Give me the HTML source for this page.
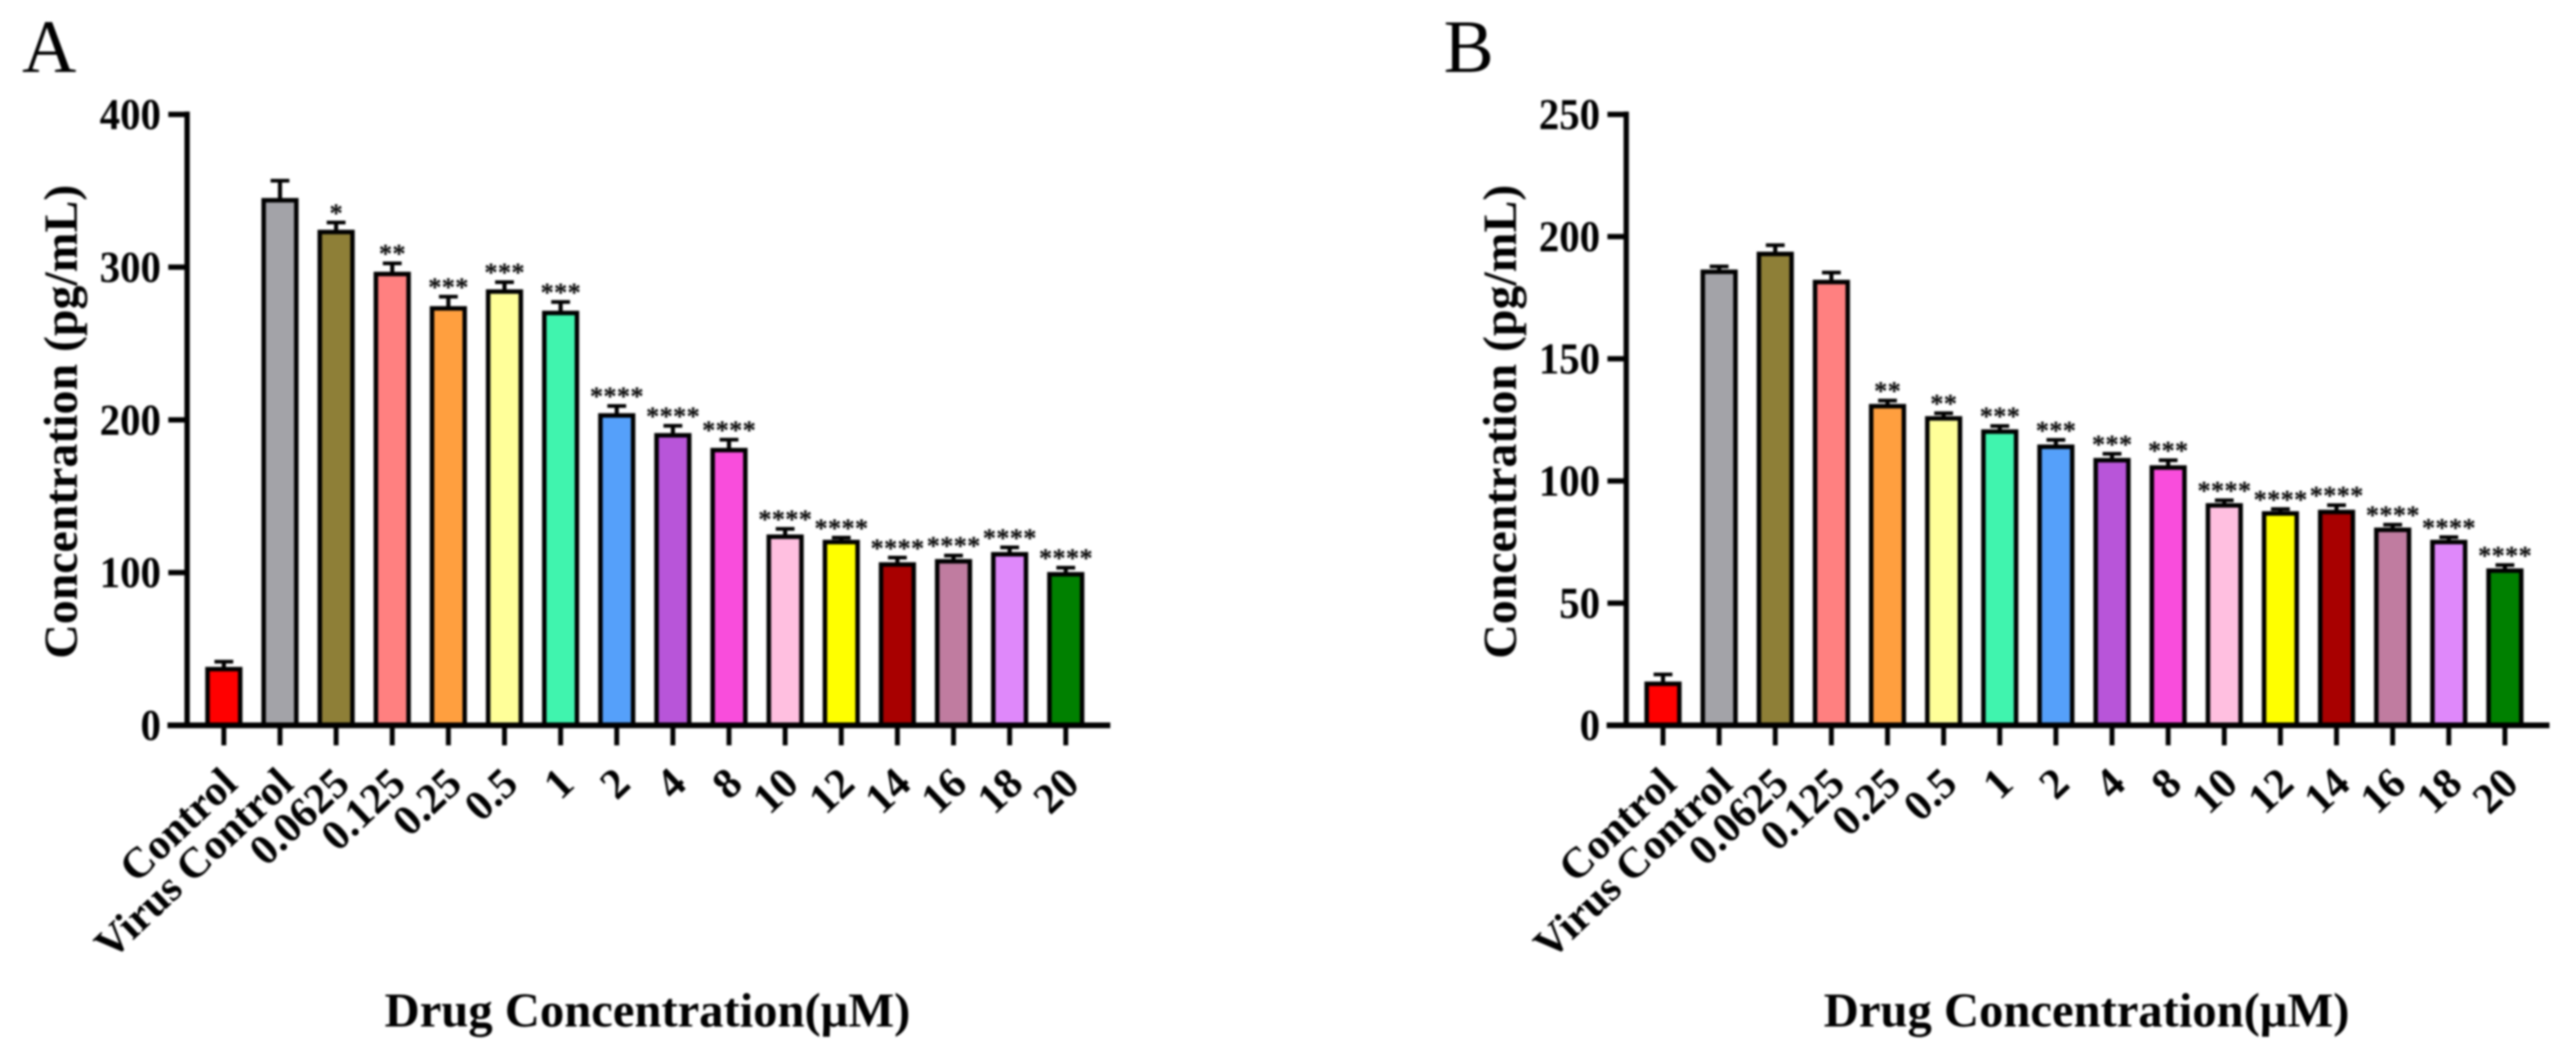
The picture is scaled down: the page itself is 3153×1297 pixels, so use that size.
<!DOCTYPE html>
<html lang="en">
<head>
<meta charset="utf-8">
<title>Concentration by drug dose, panels A and B</title>
<style>
  html, body { margin: 0; padding: 0; background: #fff; }
  svg { display: block; filter: blur(1.2px); }
  text { font-family: "Liberation Serif", serif; fill: #000; }
  .b { font-weight: bold; }
</style>
</head>
<body>
<svg id="figure" xmlns="http://www.w3.org/2000/svg" width="3153" height="1297" viewBox="0 0 3153 1297">
  <rect x="0" y="0" width="3153" height="1297" fill="#fff"/>
  <g id="panelA">
    <text x="27" y="88" font-size="92">A</text>
    <text class="b" x="94" y="516" font-size="58.5" text-anchor="middle" transform="rotate(-90 94 516)">Concentration (pg/mL)</text>
    <text class="b" x="792.5" y="1256" font-size="59.5" text-anchor="middle">Drug Concentration(μM)</text>
  </g>
  <g id="panelB">
    <text x="1767" y="88" font-size="92">B</text>
    <text class="b" x="1855.5" y="516" font-size="58.5" text-anchor="middle" transform="rotate(-90 1855.5 516)">Concentration (pg/mL)</text>
    <text class="b" x="2554" y="1256" font-size="59.5" text-anchor="middle">Drug Concentration(μM)</text>
  </g>
</svg>
<script>
const categories = ["Control", "Virus Control", "0.0625", "0.125", "0.25", "0.5", "1", "2", "4", "8", "10", "12", "14", "16", "18", "20"];
const barColors = ["#ff0000", "#a3a3a8", "#8e7f37", "#ff8080", "#ff9f3f", "#ffff99", "#40f4ae", "#55a0fa", "#b855d9", "#f94ddc", "#ffbfe0", "#ffff00", "#a80000", "#c07ca0", "#df88fa", "#008000"];

const valuesA = [36.8, 343.8, 323, 295.5, 273, 284, 270, 202.9, 189.9, 180.2, 123.5, 120, 105.3, 107.4, 112, 98.9];
const errorsA = [4.9, 12.8, 6.2, 7, 7.7, 6.2, 7.2, 6.2, 6.2, 6.8, 5.1, 2.9, 4.5, 3.8, 4.5, 4.3];
const significanceA = ["", "", "*", "**", "***", "***", "***", "****", "****", "****", "****", "****", "****", "****", "****", "****"];
const yTicksA = [0, 100, 200, 300, 400];

const valuesB = [17, 185.6, 192.9, 181.4, 130.6, 125.6, 120.2, 114, 108.5, 105.5, 90, 86.7, 87.3, 80, 75, 63.3];
const errorsB = [3.8, 2.2, 3.6, 3.9, 2.3, 2.1, 2.3, 2.8, 2.6, 3, 2.1, 1.8, 2.8, 2.1, 2, 2.3];
const significanceB = ["", "", "", "", "**", "**", "***", "***", "***", "***", "****", "****", "****", "****", "****", "****"];
const yTicksB = [0, 50, 100, 150, 200, 250];

const SVG_NS = "http://www.w3.org/2000/svg";

function make(tag, attrs, parent, content) {
  const el = document.createElementNS(SVG_NS, tag);
  for (const key in attrs) el.setAttribute(key, attrs[key]);
  if (content !== undefined) el.textContent = content;
  parent.appendChild(el);
  return el;
}

function drawPanel(group, offsetX, values, errors, significance, yTicks) {
  const yMax = yTicks[yTicks.length - 1];
  const yBase = 887.5;
  const yTop = 140;
  const axisX = 229 + offsetX;
  const xFirst = 274 + offsetX;
  const xStep = 68.7;
  const xScale = function (i) { return xFirst + i * xStep; };
  const yScale = function (v) { return yBase - (v / yMax) * (yBase - yTop); };

  categories.forEach(function (name, i) {
    const cx = xScale(i);
    const top = yScale(values[i]);
    const capY = yScale(values[i] + errors[i]);

    const stem = make("line", { x1: cx, x2: cx, y1: capY, y2: top, stroke: "#000", "stroke-width": 5 }, group);
    
    

    const cap = make("line", { x1: cx - 11.5, x2: cx + 11.5, y1: capY, y2: capY, stroke: "#000", "stroke-width": 4.5 }, group);
    
    

    const bar = make("rect", { x: cx - 20, y: top, width: 40, height: yBase - top, fill: barColors[i], stroke: "#000", "stroke-width": 5.5 }, group);
    
    

    if (significance[i]) {
      const stars = make("text", { x: cx, y: capY - 1, "font-size": 33, "text-anchor": "middle", "class": "b" }, group, significance[i]);
      
      
    }

    const tick = make("line", { x1: cx, x2: cx, y1: yBase, y2: 912, stroke: "#000", "stroke-width": 6 }, group);
    
    

    const px = cx + 19;
    const py = 962;
    const label = make("text", { x: px, y: py, "font-size": 52.5, "text-anchor": "end", "class": "b", transform: "rotate(-43.5 " + px + " " + py + ")" }, group, name);
    
    
  });

  const yAxis = make("line", { x1: axisX, x2: axisX, y1: yTop - 3.5, y2: yBase + 3, stroke: "#000", "stroke-width": 6.5 }, group);
  
  

  const xAxis = make("line", { x1: 205 + offsetX, x2: 1359 + offsetX, y1: yBase, y2: yBase, stroke: "#000", "stroke-width": 7 }, group);
  
  

  yTicks.forEach(function (t) {
    const y = yScale(t);
    const tickMark = make("line", { x1: 206 + offsetX, x2: axisX, y1: y, y2: y, stroke: "#000", "stroke-width": 6.5 }, group);
    
    

    const printed = String(t);
    const tickLabel = make("text", { x: 197 + offsetX, y: y + 18, "font-size": 54, "text-anchor": "end", "class": "b", textLength: printed.length * 25, lengthAdjust: "spacingAndGlyphs" }, group, printed);
    
    
  });
}

drawPanel(document.getElementById("panelA"), 0, valuesA, errorsA, significanceA, yTicksA);
drawPanel(document.getElementById("panelB"), 1761.5, valuesB, errorsB, significanceB, yTicksB);
</script>
</body>
</html>
